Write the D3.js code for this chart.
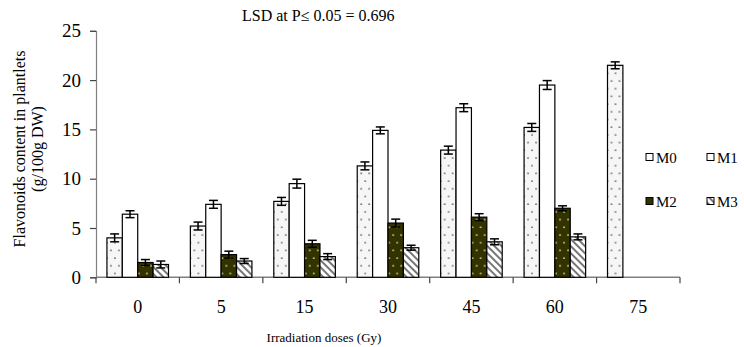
<!DOCTYPE html>
<html>
<head>
<meta charset="utf-8">
<script src="https://cdn.jsdelivr.net/npm/d3@7"></script>
<style>
  body { margin: 0; background: #fff; }
  text { font-family: "Liberation Serif", "Times New Roman", serif; fill: #000; }
</style>
</head>
<body>
<svg width="744" height="347"></svg>
<script>
// data
var doses = ["0", "5", "15", "30", "45", "60", "75"];
var series = ["M0", "M1", "M2", "M3"];
var m0 = [4.0, 5.2, 7.7, 11.3, 12.9, 15.2, 21.5];
var m1 = [6.4, 7.4, 9.5, 14.9, 17.2, 19.5, null];
var m2 = [1.5, 2.3, 3.4, 5.5, 6.1, 7.0, null];
var m3 = [1.3, 1.65, 2.1, 3.0, 3.6, 4.1, null];
var e0 = [0.4, 0.4, 0.4, 0.4, 0.4, 0.4, 0.35];
var e1 = [0.35, 0.4, 0.45, 0.35, 0.4, 0.45, null];
var e2 = [0.3, 0.35, 0.35, 0.4, 0.35, 0.25, null];
var e3 = [0.35, 0.25, 0.3, 0.25, 0.3, 0.3, null];
var yTicks = [0, 5, 10, 15, 20, 25];
var lsdText = "LSD at P\u2264 0.05 = 0.696";

var svg = d3.select("svg");
var defs = svg.append("defs");

// dotted light fill (M0)
var p0 = defs.append("pattern").attr("id", "dotLight")
  .attr("patternUnits", "userSpaceOnUse").attr("width", 8).attr("height", 15.4);
p0.append("rect").attr("width", 8).attr("height", 15.4).attr("fill", "#f6f6f6");
p0.append("circle").attr("cx", 4).attr("cy", 4).attr("r", 0.9).attr("fill", "#666");
p0.append("circle").attr("cx", 0).attr("cy", 11.7).attr("r", 0.9).attr("fill", "#666");
p0.append("circle").attr("cx", 8).attr("cy", 11.7).attr("r", 0.9).attr("fill", "#666");

// dark olive with light dots (M2)
var p2 = defs.append("pattern").attr("id", "dotDark")
  .attr("patternUnits", "userSpaceOnUse").attr("width", 8).attr("height", 15.4);
p2.append("rect").attr("width", 8).attr("height", 15.4).attr("fill", "#333300");
p2.append("circle").attr("cx", 4).attr("cy", 4).attr("r", 0.9).attr("fill", "#d8d8b0");
p2.append("circle").attr("cx", 0).attr("cy", 11.7).attr("r", 0.9).attr("fill", "#d8d8b0");
p2.append("circle").attr("cx", 8).attr("cy", 11.7).attr("r", 0.9).attr("fill", "#d8d8b0");

// diagonal hatch (M3), lines running top-left to bottom-right
var p3 = defs.append("pattern").attr("id", "hatch")
  .attr("patternUnits", "userSpaceOnUse").attr("width", 5).attr("height", 5)
  .attr("patternTransform", "rotate(45)");
p3.append("rect").attr("width", 5).attr("height", 5).attr("fill", "#fff");
p3.append("rect").attr("width", 5).attr("height", 2).attr("fill", "#777");

var fills = { M0: "url(#dotLight)", M1: "#fff", M2: "url(#dotDark)", M3: "url(#hatch)" };
var legendFills = { M0: "#fff", M1: "#fff", M2: "#333300", M3: "url(#hatch)" };

var x0 = d3.scaleBand().domain(doses).range([96, 680]).paddingInner(0.262).paddingOuter(0.131);
var x1 = d3.scaleBand().domain(series).range([0, x0.bandwidth()]);
var y = d3.scaleLinear().domain([0, 25]).range([277.3, 30.8]);

var rows = doses.map(function(d, i) {
  return { dose: d, vals: [
    { s: "M0", v: m0[i], e: e0[i] },
    { s: "M1", v: m1[i], e: e1[i] },
    { s: "M2", v: m2[i], e: e2[i] },
    { s: "M3", v: m3[i], e: e3[i] }
  ].filter(function(o) { return o.v != null; }) };
});

// axes
var yAxis = svg.append("g").attr("transform", "translate(96,0)")
  .call(d3.axisLeft(y).tickValues(yTicks).tickSize(6).tickPadding(9));
yAxis.select(".domain").attr("stroke", "#808080").attr("stroke-width", 1.2);
yAxis.selectAll(".tick line").attr("stroke", "#444").attr("stroke-width", 1.2);
yAxis.selectAll(".tick text").style("font-size", "19px").style("font-family", "Liberation Serif");

var xTickScale = d3.scaleLinear().domain([0, doses.length]).range([96, 680]);
var xAxis = svg.append("g").attr("transform", "translate(0,277.3)");
xAxis.append("line").attr("x1", 96).attr("x2", 680).attr("stroke", "#808080").attr("stroke-width", 1.5);
xAxis.selectAll("line.tk").data(d3.range(doses.length + 1)).enter().append("line")
  .attr("class", "tk")
  .attr("x1", function(d) { return xTickScale(d); }).attr("x2", function(d) { return xTickScale(d); })
  .attr("y1", 0).attr("y2", 6).attr("stroke", "#444").attr("stroke-width", 1.2);
xAxis.selectAll("text").data(doses).enter().append("text")
  .attr("x", function(d) { return x0(d) + x0.bandwidth() / 2; })
  .attr("y", 36).attr("text-anchor", "middle").style("font-size", "18px")
  .text(function(d) { return d; });

// bars
var groups = svg.selectAll("g.grp").data(rows).enter().append("g")
  .attr("class", "grp")
  .attr("transform", function(d) { return "translate(" + x0(d.dose) + ",0)"; });

groups.selectAll("rect").data(function(d) { return d.vals; }).enter().append("rect")
  .attr("x", function(d) { return x1(d.s); })
  .attr("width", x1.bandwidth())
  .attr("y", function(d) { return y(d.v); })
  .attr("height", function(d) { return y(0) - y(d.v); })
  .attr("fill", function(d) { return fills[d.s]; })
  .attr("stroke", "#000").attr("stroke-width", 1.2);

// error bars
var eb = groups.selectAll("g.err").data(function(d) { return d.vals; }).enter().append("g")
  .attr("class", "err").attr("stroke", "#000").attr("stroke-width", 1.5);
function cx(d) { return x1(d.s) + x1.bandwidth() / 2; }
eb.append("line").attr("x1", cx).attr("x2", cx)
  .attr("y1", function(d) { return y(d.v + d.e); }).attr("y2", function(d) { return y(d.v - d.e); });
eb.append("line").attr("x1", function(d) { return cx(d) - 4.5; }).attr("x2", function(d) { return cx(d) + 4.5; })
  .attr("y1", function(d) { return y(d.v + d.e); }).attr("y2", function(d) { return y(d.v + d.e); });
eb.append("line").attr("x1", function(d) { return cx(d) - 4.5; }).attr("x2", function(d) { return cx(d) + 4.5; })
  .attr("y1", function(d) { return y(d.v - d.e); }).attr("y2", function(d) { return y(d.v - d.e); });

// titles
svg.append("text").attr("x", 242).attr("y", 21).style("font-size", "16px").text(lsdText);
svg.append("text").attr("x", 324).attr("y", 342).attr("text-anchor", "middle")
  .style("font-size", "13px").text("Irradiation doses (Gy)");
svg.append("text").attr("transform", "translate(25,149) rotate(-90)").attr("text-anchor", "middle")
  .style("font-size", "16px").text("Flavonoids content in plantlets");
svg.append("text").attr("transform", "translate(43,149) rotate(-90)").attr("text-anchor", "middle")
  .style("font-size", "16px").text("(g/100g DW)");

// legend
var legPos = [[646, 157], [707, 157], [646, 201], [707, 201]];
var leg = svg.selectAll("g.leg").data(series).enter().append("g")
  .attr("class", "leg")
  .attr("transform", function(d, i) { return "translate(" + legPos[i][0] + "," + legPos[i][1] + ")"; });
leg.append("rect").attr("x", 0).attr("y", -3.5).attr("width", 7).attr("height", 7)
  .attr("fill", function(d) { return legendFills[d]; }).attr("stroke", "#000").attr("stroke-width", 1);
leg.append("text").attr("x", 10).attr("y", 5.5).style("font-size", "15px").text(function(d) { return d; });
</script>
</body>
</html>
